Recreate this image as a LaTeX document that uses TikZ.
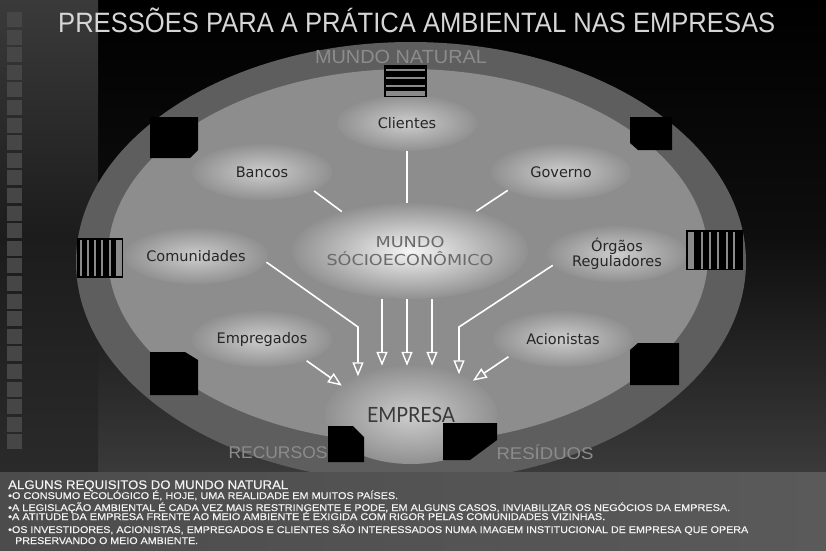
\documentclass[tikz,border=0pt]{standalone}
\usepackage{fontspec}
\setmainfont{Liberation Sans}
\newfontfamily\dv{DejaVu Sans}
\newfontfamily\lato{Lato}
\newfontfamily\notefont[FakeBold=0.35]{Liberation Sans}
\usetikzlibrary{shapes.geometric,arrows.meta}
\newcommand{\fitw}[2]{\resizebox{#1}{\height}{#2}}
\definecolor{ringc}{HTML}{5E5E5E}
\definecolor{innerc}{HTML}{8D8D8D}
\definecolor{bubin}{HTML}{CDCDCD}
\definecolor{bubout}{HTML}{909090}
\definecolor{lblc}{HTML}{262626}
\definecolor{titlec}{HTML}{D6D6D6}
\definecolor{softc}{HTML}{8C8C8C}
\definecolor{stripec}{HTML}{8A8A8A}
\definecolor{sqc}{HTML}{464646}
\definecolor{strip1}{HTML}{3A3A3A}
\definecolor{strip2}{HTML}{1C1C1C}
\definecolor{strip3}{HTML}{2A2A2A}
\definecolor{bgmid}{HTML}{0E0E0E}
\definecolor{bgbot}{HTML}{3A3A3A}
\definecolor{band1}{HTML}{4C4C4C}
\definecolor{band2}{HTML}{5A5A5A}
\definecolor{socc}{HTML}{6A6A6A}
\definecolor{empc}{HTML}{3A3A3A}
\definecolor{notec}{HTML}{F2F2F2}
\begin{document}
\begin{tikzpicture}[x=1pt,y=-1pt,
  bub/.style={ellipse, inner sep=0pt, minimum width=140pt, minimum height=56pt,
    shading=radial, inner color=bubin, outer color=bubout,
    font=\dv\fontsize{14.5}{15}\selectfont, text=lblc, align=center},
  link/.style={draw=white, line width=1.6pt},
  arr/.style={link, -{Triangle[open, width=11pt, length=14pt, line width=1.4pt]}},
  blk/.style={fill=black},
  stripe/.style={draw=stripec, line width=1.6pt},
  note/.style={anchor=base west, inner sep=0pt, text=notec, font=\notefont\fontsize{9.8}{10}\selectfont},
  soft/.style={inner sep=0pt, text=softc, font=\fontsize{19}{20}\selectfont},
]
\useasboundingbox (0,0) rectangle (826,550);
% backgrounds
\fill[top color=black, bottom color=bgbot, middle color=bgmid] (98,0) rectangle (826,472);
\fill[top color=strip1, bottom color=strip3, middle color=strip2] (0,0) rectangle (98,472);
\foreach \i in {0,...,24}{
  \pgfmathsetmacro{\ya}{12+\i*17.6}
  \pgfmathsetmacro{\yb}{\ya+15}
  \fill[sqc] (7,\ya) rectangle (22,\yb);
}
% rings
\fill[ringc] (411,262) ellipse [x radius=335pt, y radius=220pt];
\fill[innerc] (408,256) ellipse [x radius=300pt, y radius=187pt];
% bottom band
\fill[left color=band1, right color=band2] (0,472) rectangle (826,550);

% title
\node[anchor=base west, inner sep=0pt, text=titlec, font=\fontsize{28}{30}\selectfont] (title) at (58,32)
  {\fitw{717pt}{PRESSÕES PARA A PRÁTICA AMBIENTAL NAS EMPRESAS}};
\node[soft] (natural) at (401,57) {\fitw{172pt}{MUNDO NATURAL}};
\node[soft, font=\fontsize{17}{18}\selectfont] (recursos) at (278,453) {\fitw{99pt}{RECURSOS}};
\node[soft, font=\fontsize{17}{18}\selectfont] (residuos) at (545,452) {\fitw{97pt}{RESÍDUOS}};

% bubbles
\node[bub] (cli) at (407,123) {Clientes};
\node[bub] (ban) at (262,172) {Bancos};
\node[bub] (gov) at (561,172) {Governo};
\node[bub, minimum width=144pt] (com) at (196,256) {Comunidades};
\node[bub, font=\dv\fontsize{14.5}{14}\selectfont] (org) at (617,254) {Órgãos\\Reguladores};
\node[bub] (emg) at (262,339) {Empregados};
\node[bub] (aci) at (563,339) {Acionistas};
\node[bub, minimum width=196pt, minimum height=96pt, inner color=white!80!bubin, outer color=bubout,
      text=socc, font=\dv\fontsize{15}{19}\selectfont] (soc) at (410,251)
  {\fitw{69pt}{MUNDO}\\[-1pt]\fitw{167pt}{SÓCIOECONÔMICO}};
\node[bub, minimum width=172pt, minimum height=98pt, text=empc, font=\lato\fontsize{21}{22}\selectfont] (emp) at (411,415)
  {\fitw{88pt}{EMPRESA}};

% connectors
\draw[link] (cli.south) -- (cli.south |- soc.north);
\draw[link] (ban.-20) -- (soc.150);
\draw[link] (gov.-161) -- (soc.31);
\coordinate (kc) at (358,327);
\coordinate (ko) at (459,327);
\draw[arr] (com.-5) -- (kc) -- (kc |- emp.144);
\draw[arr] (org.-170) -- (ko) -- (ko |- emp.40);
\draw[arr] ([xshift=-28pt]soc.south) -- ([xshift=-28pt]soc.south |- emp.north);
\draw[arr] ([xshift=-3pt]soc.south) -- ([xshift=-3pt]soc.south |- emp.north);
\draw[arr] ([xshift=22pt]soc.south) -- ([xshift=22pt]soc.south |- emp.north);
\draw[arr] (emg.-26) -- (emp.157);
\draw[arr] (aci.-162) -- (emp.29);

% black boxes
\fill[blk] (150,117) -- (198,117) -- (198,150) -- (190,158) -- (150,158) -- cycle;
\fill[blk] (630,117) -- (672,117) -- (672,150) -- (638,150) -- (630,143) -- cycle;
\fill[blk] (150,352) -- (185,352) -- (198,360) -- (198,395) -- (150,395) -- cycle;
\fill[blk] (638,343) -- (679,343) -- (679,385) -- (630,385) -- (630,350) -- cycle;
\fill[blk] (328,426) -- (353,426) -- (364,437) -- (364,462) -- (328,462) -- cycle;
\fill[blk] (443,423) -- (497,423) -- (497,440) -- (470,460) -- (443,460) -- cycle;

% striped boxes
\fill[black] (384,65) rectangle (427,97);
\foreach \yy in {70,78,86} \draw[stripe] (386,\yy) -- (425,\yy);
\fill[stripec] (386,91) rectangle (425,95.5);
\fill[black] (77,238) rectangle (123,278);
\foreach \xx in {81,88,95,102,110} \draw[stripe] (\xx,240) -- (\xx,276);
\fill[stripec] (116,240) rectangle (121.5,276);
\fill[black] (686,230) rectangle (743,270);
\fill[stripec] (687.5,231.5) rectangle (694,268.5);
\foreach \xx in {702,710,718,727,734} \draw[stripe] (\xx,231.5) -- (\xx,268.5);

% notes
\node[note, font=\notefont\fontsize{12.5}{13}\selectfont] (n0) at (8,489) {\fitw{280pt}{ALGUNS REQUISITOS DO MUNDO NATURAL}};
\node[note] (n1) at (8,499) {\fitw{390pt}{•O CONSUMO ECOLÓGICO É, HOJE, UMA REALIDADE EM MUITOS PAÍSES.}};
\node[note] (n2) at (8,511) {\fitw{722pt}{•A LEGISLAÇÃO AMBIENTAL É CADA VEZ MAIS RESTRINGENTE E PODE, EM ALGUNS CASOS, INVIABILIZAR OS NEGÓCIOS DA EMPRESA.}};
\node[note] (n3) at (8,520) {\fitw{597pt}{•A ATITUDE DA EMPRESA FRENTE AO MEIO AMBIENTE É EXIGIDA COM RIGOR PELAS COMUNIDADES VIZINHAS.}};
\node[note] (n4) at (8,533) {\fitw{740pt}{•OS INVESTIDORES, ACIONISTAS, EMPREGADOS E CLIENTES SÃO INTERESSADOS NUMA IMAGEM INSTITUCIONAL DE EMPRESA QUE OPERA}};
\node[note] (n5) at (15,544) {\fitw{183pt}{PRESERVANDO O MEIO AMBIENTE.}};
\end{tikzpicture}
\end{document}
